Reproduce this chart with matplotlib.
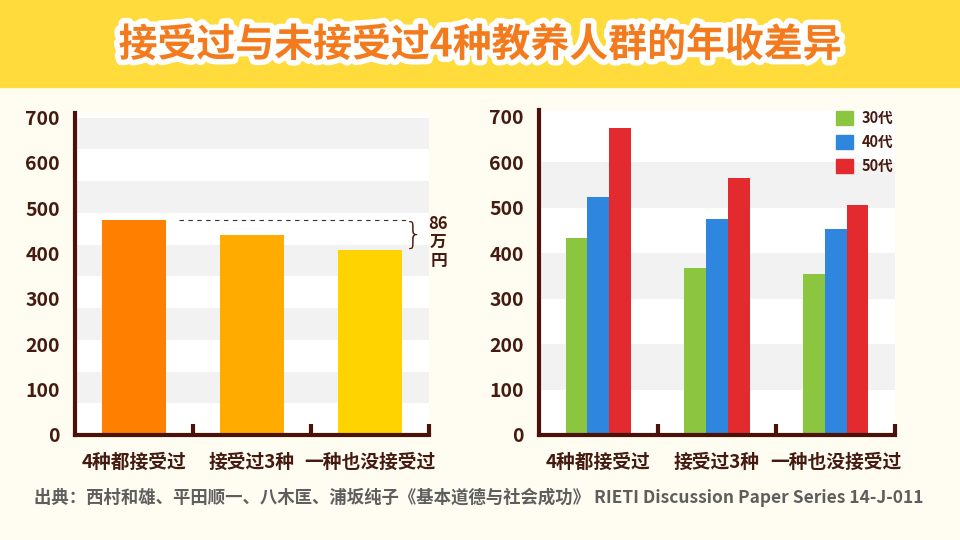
import matplotlib.pyplot as plt
import matplotlib.patheffects as pe
from matplotlib.patches import Patch, Rectangle
import numpy as np

plt.rcParams['font.family'] = ['Noto Sans CJK SC', 'Noto Sans CJK JP', 'DejaVu Sans']

# ---- data ----
title = "接受过与未接受过4种教养人群的年收差异"
source = "出典：西村和雄、平田顺一、八木匡、浦坂纯子《基本道德与社会成功》 RIETI Discussion Paper Series 14-J-011"
categories = ["4种都接受过", "接受过3种", "一种也没接受过"]
overall = [473, 440, 408]
ages = ["30代", "40代", "50代"]
income_30s = [434, 368, 355]
income_40s = [524, 475, 454]
income_50s = [675, 565, 507]
gap_label = "86\n万\n円"
yticks = [0, 100, 200, 300, 400, 500, 600, 700]

# ---- styles ----
overall_colors = ["#ff8000", "#ffab00", "#ffd300"]
age_colors = ["#8cc53f", "#2e86de", "#e32b2f"]
dark = "#4a1208"
text_dark = "#451a10"
band = "#f2f2f2"
bg = "#fffdf2"

fig = plt.figure(figsize=(9.6, 5.4), dpi=100, facecolor=bg)
fig.patches.append(Rectangle((0, 1 - 87 / 540), 1, 87 / 540, transform=fig.transFigure,
                             color="#ffdc3c", zorder=0))
fig.text(0.5, 1 - 45 / 540, title, ha="center", va="center", fontsize=28,
         fontweight="heavy", color="#f37b1d",
         path_effects=[pe.withStroke(linewidth=8, foreground="white")])
fig.text(34 / 960, 1 - 497 / 540, source, ha="left", va="center", fontsize=12.5,
         fontweight="bold", color="#5e5e5e")


def style(ax, top):
    ax.set_facecolor("white")
    ax.set_xlim(-0.5, 2.5)
    ax.set_ylim(0, top)
    for s in ["top", "right"]:
        ax.spines[s].set_visible(False)
    for s in ["left", "bottom"]:
        ax.spines[s].set_color(dark)
        ax.spines[s].set_linewidth(3)
        ax.spines[s].set_zorder(5)
    ax.set_yticks(yticks)
    ax.tick_params(axis="y", length=0, pad=11, labelsize=14, labelcolor=text_dark)
    for lab in ax.get_yticklabels():
        lab.set_fontweight("bold")
    ax.set_xticks(range(len(categories)))
    ax.set_xticklabels(categories, fontsize=13.5, fontweight="bold", color=text_dark)
    ax.tick_params(axis="x", which="major", length=0, pad=13)
    ax.set_xticks([0.5, 1.5, 2.5], minor=True)
    ax.tick_params(axis="x", which="minor", direction="in", length=8, width=3, color=dark)


# ---- left chart ----
ax1 = fig.add_axes([75 / 960, 105 / 540, 354 / 960, 322 / 540])
style(ax1, 710)
for lo in np.arange(70, 700, 140):
    ax1.axhspan(lo, lo + 70, color=band, lw=0, zorder=0)
x = np.arange(len(categories))
ax1.bar(x, overall, width=0.55, color=overall_colors, zorder=3)
ax1.plot([0.38, 2.31], [overall[0], overall[0]], ls=(0, (4, 4)), lw=0.8,
         color="#333333", zorder=4)
ax1.text(2.37, (overall[0] + overall[2]) / 2, "}", ha="center", va="center", fontsize=22,
         family="DejaVu Sans", fontweight="light", color=text_dark, clip_on=False)
ax1.text(2.58, 425, gap_label, ha="center", va="center", fontsize=12, fontweight="bold",
         color=text_dark, linespacing=1.05, clip_on=False)

# ---- right chart ----
ax2 = fig.add_axes([539 / 960, 105 / 540, 356 / 960, 325 / 540])
style(ax2, 715)
for lo in [100, 300, 500]:
    ax2.axhspan(lo, lo + 100, color=band, lw=0, zorder=0)
w = 0.184
for i, (vals, c) in enumerate(zip([income_30s, income_40s, income_50s], age_colors)):
    ax2.bar(x + (i - 1) * w, vals, width=w, color=c, zorder=3, label=ages[i])
handles = [Patch(color=c) for c in age_colors]
leg = ax2.legend(handles, ages, loc="upper left", bbox_to_anchor=(0.834, 1.0),
                 frameon=False, handlelength=1.15, handleheight=1.15,
                 handletextpad=0.6, labelspacing=0.55, borderpad=0, borderaxespad=0,
                 prop={"size": 10.5, "weight": "bold"})
for t in leg.get_texts():
    t.set_color(text_dark)

fig.savefig("out.png", dpi=100, facecolor=bg)
